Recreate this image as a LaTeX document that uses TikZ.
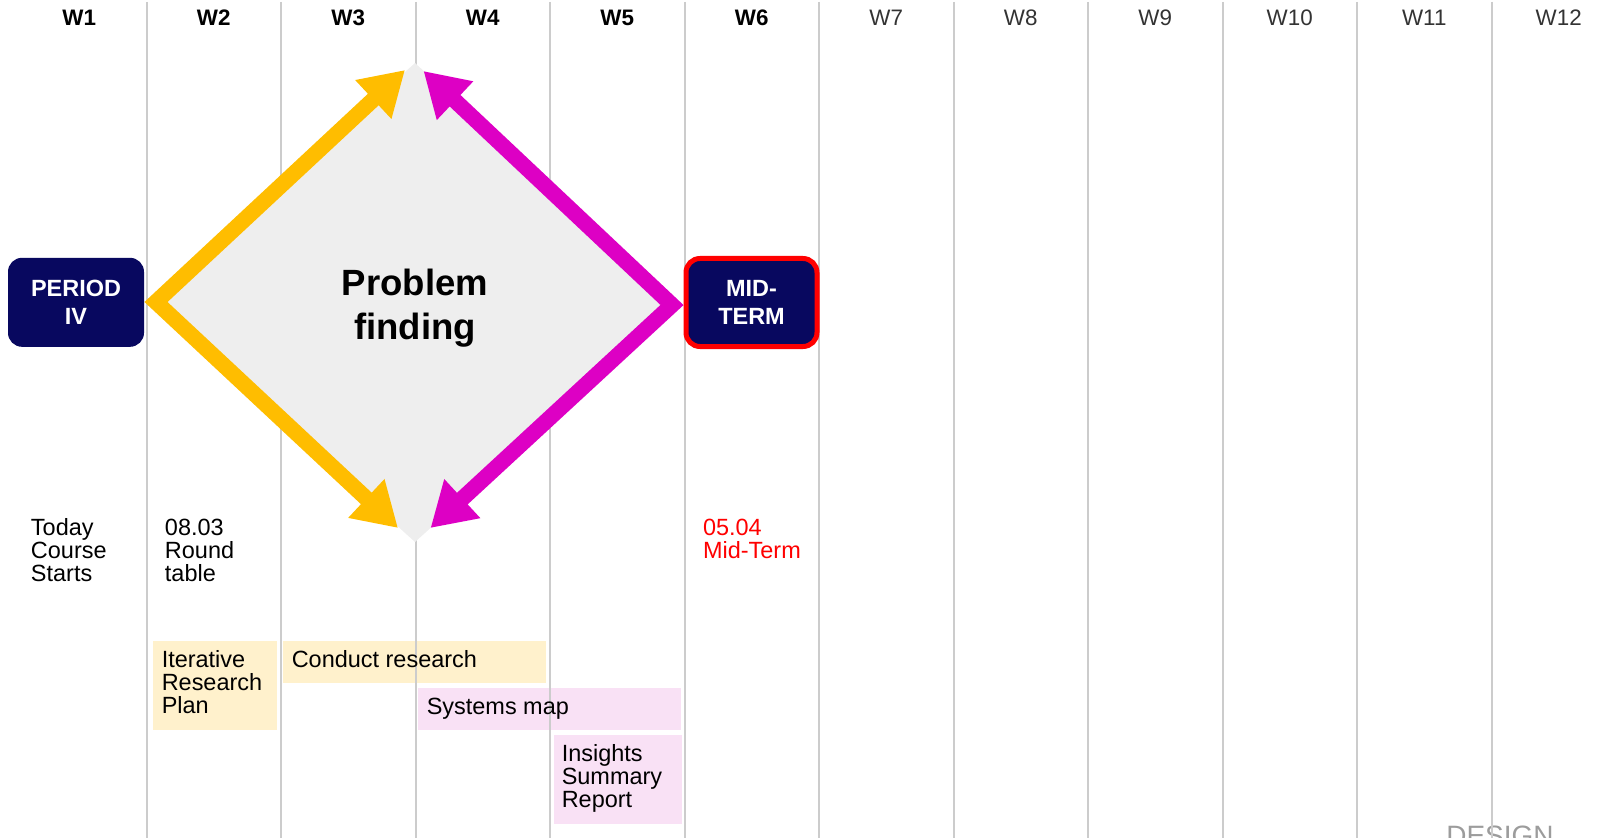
\documentclass[tikz,border=0pt]{standalone}
\usepackage{fontspec}
\setmainfont{Liberation Sans}
\usetikzlibrary{arrows.meta}
\definecolor{navy}{HTML}{08085F}
\definecolor{gold}{HTML}{FFBD00}
\definecolor{mag}{HTML}{DD00C4}
\definecolor{gridgrey}{HTML}{CCCCCC}
\definecolor{dfill}{HTML}{EEEEEE}
\definecolor{ybox}{HTML}{FFF1CC}
\definecolor{pbox}{HTML}{F9E1F5}
\definecolor{designgrey}{HTML}{9C9C9C}
\begin{document}
\begin{tikzpicture}[x=0.75pt,y=-0.75pt,
  gridline/.style={draw=gridgrey,line width=1.5pt},
  wbold/.style={font=\fontsize{16.8}{18}\selectfont\bfseries,inner sep=0pt},
  wlight/.style={font=\fontsize{16.8}{18}\selectfont,text=black!80,inner sep=0pt},
  darkbox/.style={fill=navy,rounded corners=10.5pt,text=white,
    font=\fontsize{17.6}{20.6}\selectfont\bfseries,align=center,inner sep=0pt},
  lbl/.style={font=\fontsize{17.6}{17.25}\selectfont,align=left,anchor=north west,inner sep=0pt},
  taskbox/.style={anchor=north west,inner sep=0pt,draw=none},
  arr/.style={line width=11.8pt,line join=miter,
    arrows={Triangle[length=32.5pt,width=37.5pt]-Triangle[length=32.5pt,width=37.5pt]}},
]
\useasboundingbox (0,0) rectangle (1604,838);
\clip (0,0) rectangle (1604,838);

% task boxes (under the grid lines)
\node[taskbox,fill=ybox,minimum width=93.4pt,minimum height=66.75pt] (irpbox) at (152.5,640.5) {};
\node[taskbox,fill=ybox,minimum width=196.9pt,minimum height=31.5pt] (crbox) at (283,640.5) {};
\node[taskbox,fill=pbox,minimum width=196.9pt,minimum height=31.5pt] (smbox) at (418,687.5) {};
\node[taskbox,fill=pbox,minimum width=96pt,minimum height=66.75pt] (isrbox) at (553.5,734.5) {};

% grid lines
\foreach \k in {0,...,10} {
  \coordinate (gt\k) at ({146.5+134.5*\k},2);
  \coordinate (gb\k) at ({146.5+134.5*\k},838);
  \draw[gridline] (gt\k) -- (gb\k);
}

% week labels
\foreach \i in {1,...,6} {
  \node[wbold] (w\i) at ({79.25+134.5*(\i-1)},18) {W\i};
}
\foreach \i in {7,...,12} {
  \node[wlight] (w\i) at ({79.25+134.5*(\i-1)},18) {W\i};
}

% diamond
\coordinate (dT) at (415,63);
\coordinate (dB) at (415,542);
\coordinate (dL) at (150,302);
\coordinate (dR) at (679,304);
\fill[dfill] (dT) -- (dR) -- (dB) -- (dL) -- cycle;
\node[font=\fontsize{27.4}{33}\selectfont\bfseries,align=center,anchor=north,inner sep=0pt] (pf) at (415,269) {Problem\\finding};

% arrows
\coordinate (yT) at (405,70);
\coordinate (yL) at (156,302);
\coordinate (yB) at (398,528);
\coordinate (mT) at (423.5,71);
\coordinate (mR) at (672,305);
\coordinate (mB) at (430.5,528);
\draw[arr,color=gold] (yT) -- (yL) -- (yB);
\draw[arr,color=mag] (mT) -- (mR) -- (mB);

% milestone boxes
\node[darkbox,minimum width=102pt,minimum height=66.75pt] (period) at (76,302.3) {PERIOD\\IV};
\node[darkbox,draw=red,line width=3.75pt,minimum width=98.25pt,minimum height=66pt] (mid) at (751.5,302.5) {MID-\\TERM};

% date labels
\node[lbl] (today) at (30.7,518.5) {Today\\Course\\Starts};
\node[lbl] (round) at (164.7,518.5) {08.03\\Round\\table};
\node[lbl,text=red] (midlbl) at (702.8,518.5) {05.04\\Mid-Term};

% task texts
\node[lbl] (irp) at (161.5,650.5) {Iterative\\Research\\Plan};
\node[lbl] (cr) at (291.5,650.5) {Conduct research};
\node[lbl] (sm) at (426.5,697.5) {Systems map};
\node[lbl] (isr) at (561.5,744.5) {Insights\\Summary\\Report};

% footer
\node[font=\fontsize{21}{21}\selectfont,text=designgrey,anchor=base,inner sep=0pt] (design) at (1500,845) {DESIGN};
\draw[gridline] (gt10) -- (gb10);
\end{tikzpicture}
\end{document}
